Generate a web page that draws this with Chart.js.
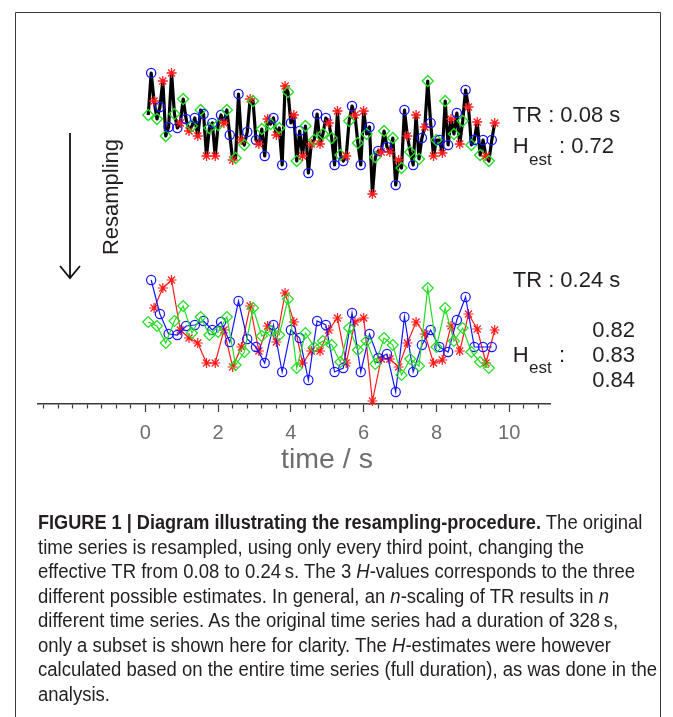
<!DOCTYPE html>
<html>
<head>
<meta charset="utf-8">
<script src="https://cdn.jsdelivr.net/npm/chart.js@4.4.1/dist/chart.umd.min.js"></script>
<style>
  html, body { margin: 0; padding: 0; background: #fff; }
  #wrap { position: relative; width: 673px; height: 717px; overflow: hidden; }
  #chart { position: absolute; left: 0; top: 0; }
  #overlay { position: absolute; left: 0; top: 0; }
  #caption {
    position: absolute; left: 38px; top: 510px;
    font-family: "Liberation Sans", Arial, sans-serif;
    font-size: 20px; line-height: 24.5px; color: #231f20;
    transform-origin: 0 0;
  }
  #caption div { white-space: nowrap; width: max-content; }
  #caption b { display: inline-block; transform-origin: 0 0; }
</style>
</head>
<body>
<div id="wrap">
  <canvas id="chart" width="673" height="454"></canvas>
  <svg id="overlay" width="673" height="717" style="font-family: 'Liberation Sans', Arial, sans-serif" fill="#231f20">
    <path d="M15.5,717 V12.5 H660.5 V717" fill="none" stroke="#3a3a3a" stroke-width="1"/>
    <!-- resampling arrow -->
    <line x1="70" y1="133" x2="70" y2="277" stroke="#111" stroke-width="1.8"/>
    <polyline points="60,266 70,278 80,266" fill="none" stroke="#111" stroke-width="1.8"/>
    <text transform="translate(118,197) rotate(-90)" text-anchor="middle" font-size="22">Resampling</text>

    <text x="512.7" y="121.7" font-size="22">TR : 0.08 s</text>
    <text x="512.7" y="153" font-size="22">H</text>
    <text x="529" y="165" font-size="17">est</text>
    <text x="559" y="153" font-size="22">: 0.72</text>

    <text x="512.7" y="287.3" font-size="22">TR : 0.24 s</text>
    <text x="512.7" y="361.7" font-size="22">H</text>
    <text x="529" y="372.7" font-size="17">est</text>
    <text x="559" y="361.7" font-size="22">:</text>
    <text x="635" y="336.7" font-size="22" text-anchor="end">0.82</text>
    <text x="635" y="361.7" font-size="22" text-anchor="end">0.83</text>
    <text x="635" y="386.7" font-size="22" text-anchor="end">0.84</text>

    <text x="327" y="468" font-size="28.5" text-anchor="middle" fill="#6d6e71">time / s</text>
  </svg>
  <div id="caption">
    <div><b>FIGURE 1 | Diagram illustrating the resampling-procedure.</b> The original</div>
    <div>time series is resampled, using only every third point, changing the</div>
    <div>effective TR from 0.08 to 0.24&thinsp;s. The 3 <i>H</i>-values corresponds to the three</div>
    <div>different possible estimates. In general, an <i>n</i>-scaling of TR results in <i>n</i></div>
    <div>different time series. As the original time series had a duration of 328&thinsp;s,</div>
    <div>only a subset is shown here for clarity. The <i>H</i>-estimates were however</div>
    <div>calculated based on the entire time series (full duration), as was done in the</div>
    <div>analysis.</div>
  </div>
</div>
<script>
const TR = 0.08; // original sampling interval, s

// signal values of the three resampled series (every third point of the original)
const greenValues = [7.8, 7.4, 5.7, 7.9, 9.4, 6.7, 8.3, 6.5, 6.8, 8.3, 3.5, 4.8, 9.2, 6.4, 6.9, 6.5, 10.1, 3.2, 6.7, 5.3,
  5.9, 5.5, 3.8, 7.2, 5.0, 5.9, 3.6, 6.2, 5.5, 2.5, 4.1, 3.4, 11.2, 5.3, 9.2, 5.9, 7.2, 4.8, 3.8, 3.2];
const blueValues = [12.0, 8.6, 6.6, 6.5, 7.4, 7.5, 7.9, 7.0, 7.8, 5.8, 9.9, 6.1, 5.3, 3.7, 7.5, 2.8, 7.0, 6.2, 2.0, 7.9,
  7.5, 2.8, 3.2, 8.7, 2.8, 6.6, 4.2, 4.6, 0.8, 8.3, 2.8, 5.5, 7.0, 5.3, 4.8, 8.0, 10.3, 5.3, 5.3, 5.3];
const redValues = [9.2, 11.2, 12.0, 7.0, 6.2, 5.7, 3.7, 3.7, 7.0, 3.3, 5.3, 9.4, 4.9, 7.4, 5.8, 10.7, 7.8, 3.7, 4.9, 4.9,
  7.0, 8.2, 3.7, 7.8, 8.2, -0.1, 4.1, 4.1, 3.3, 5.7, 7.8, 6.6, 3.7, 4.0, 7.4, 4.9, 8.6, 7.1, 3.7, 7.0];

const tickLabels = [0, 2, 4, 6, 8, 10];
const TOP_OFFSET = 20.7; // vertical shift of the original trace above the resampled ones

const GREEN = '#22dd22';
const BLUE = '#1414ff';
const RED = '#ff1a1a';

const markers = {
  g: { style: 'rectRot', color: GREEN, r: 5.5 },
  b: { style: 'circle', color: BLUE, r: 4.6 },
  r: { style: 'star', color: RED, r: 5 }
};

function resampled(values, start) {
  return values.map((v, k) => ({ x: +(TR * (start + 3 * k)).toFixed(2), y: v }));
}
const greenPts = resampled(greenValues, 1);
const bluePts = resampled(blueValues, 2);
const redPts = resampled(redValues, 3);

// original series = the three resampled ones interleaved
const original = [];
for (let k = 0; k < greenValues.length; k++) {
  original.push({ x: greenPts[k].x, y: greenValues[k] + TOP_OFFSET, s: 'g' });
  original.push({ x: bluePts[k].x, y: blueValues[k] + TOP_OFFSET, s: 'b' });
  original.push({ x: redPts[k].x, y: redValues[k] + TOP_OFFSET, s: 'r' });
}

function resampledSet(points, key) {
  const m = markers[key];
  return {
    data: points,
    borderColor: m.color,
    borderWidth: 1.2,
    pointStyle: m.style,
    pointRadius: m.r,
    pointBorderColor: m.color,
    pointBorderWidth: 1.2,
    pointBackgroundColor: 'rgba(0,0,0,0)',
    clip: false
  };
}

new Chart(document.getElementById('chart'), {
  type: 'line',
  data: {
    datasets: [
      {
        data: original,
        borderColor: '#000',
        borderWidth: 3.2,
        borderJoinStyle: 'round',
        pointStyle: original.map((p) => markers[p.s].style),
        pointRadius: original.map((p) => markers[p.s].r),
        pointBorderColor: original.map((p) => markers[p.s].color),
        pointBorderWidth: 1.3,
        pointBackgroundColor: 'rgba(0,0,0,0)',
        clip: false
      },
      resampledSet(greenPts, 'g'),
      resampledSet(bluePts, 'b'),
      resampledSet(redPts, 'r')
    ]
  },
  options: {
    responsive: false,
    animation: false,
    events: [],
    layout: { padding: { left: 38, right: 123, top: 60, bottom: 0 } },
    plugins: { legend: { display: false }, tooltip: { enabled: false } },
    scales: {
      x: {
        type: 'linear',
        min: -2.95,
        max: 11.12,
        afterBuildTicks: (axis) => {
          const ticks = [];
          for (let i = -7; i <= 27; i++) ticks.push({ value: +(i * 0.4).toFixed(1) });
          axis.ticks = ticks;
        },
        ticks: {
          autoSkip: false,
          maxRotation: 0,
          padding: 9,
          color: '#6d6e71',
          font: { family: 'Liberation Sans', size: 20 },
          callback: (v) => (tickLabels.includes(v) ? String(v) : '')
        },
        grid: {
          drawOnChartArea: false,
          tickLength: 8,
          tickWidth: 1.2,
          tickColor: '#3a3a3a',
          tickBorderDash: (ctx) => (ctx.tick && tickLabels.includes(ctx.tick.value) ? [] : [4, 20])
        },
        border: { color: '#3a3a3a', width: 1.5 }
      },
      y: { display: false, min: -0.4, max: 34 }
    }
  }
});

// the caption is set in a condensed face: squeeze it to the measured line widths
const caption = document.getElementById('caption');
const scale = 619 / caption.children[6].getBoundingClientRect().width;
caption.style.transform = 'scaleX(' + scale + ')';
const bold = caption.querySelector('b');
const boldWidth = bold.getBoundingClientRect().width / scale;
const boldTarget = 503 / scale;
const boldScale = boldTarget / boldWidth;
bold.style.transform = 'scaleX(' + boldScale + ')';
bold.style.marginRight = (boldTarget - boldWidth) + 'px';
</script>
</body>
</html>
